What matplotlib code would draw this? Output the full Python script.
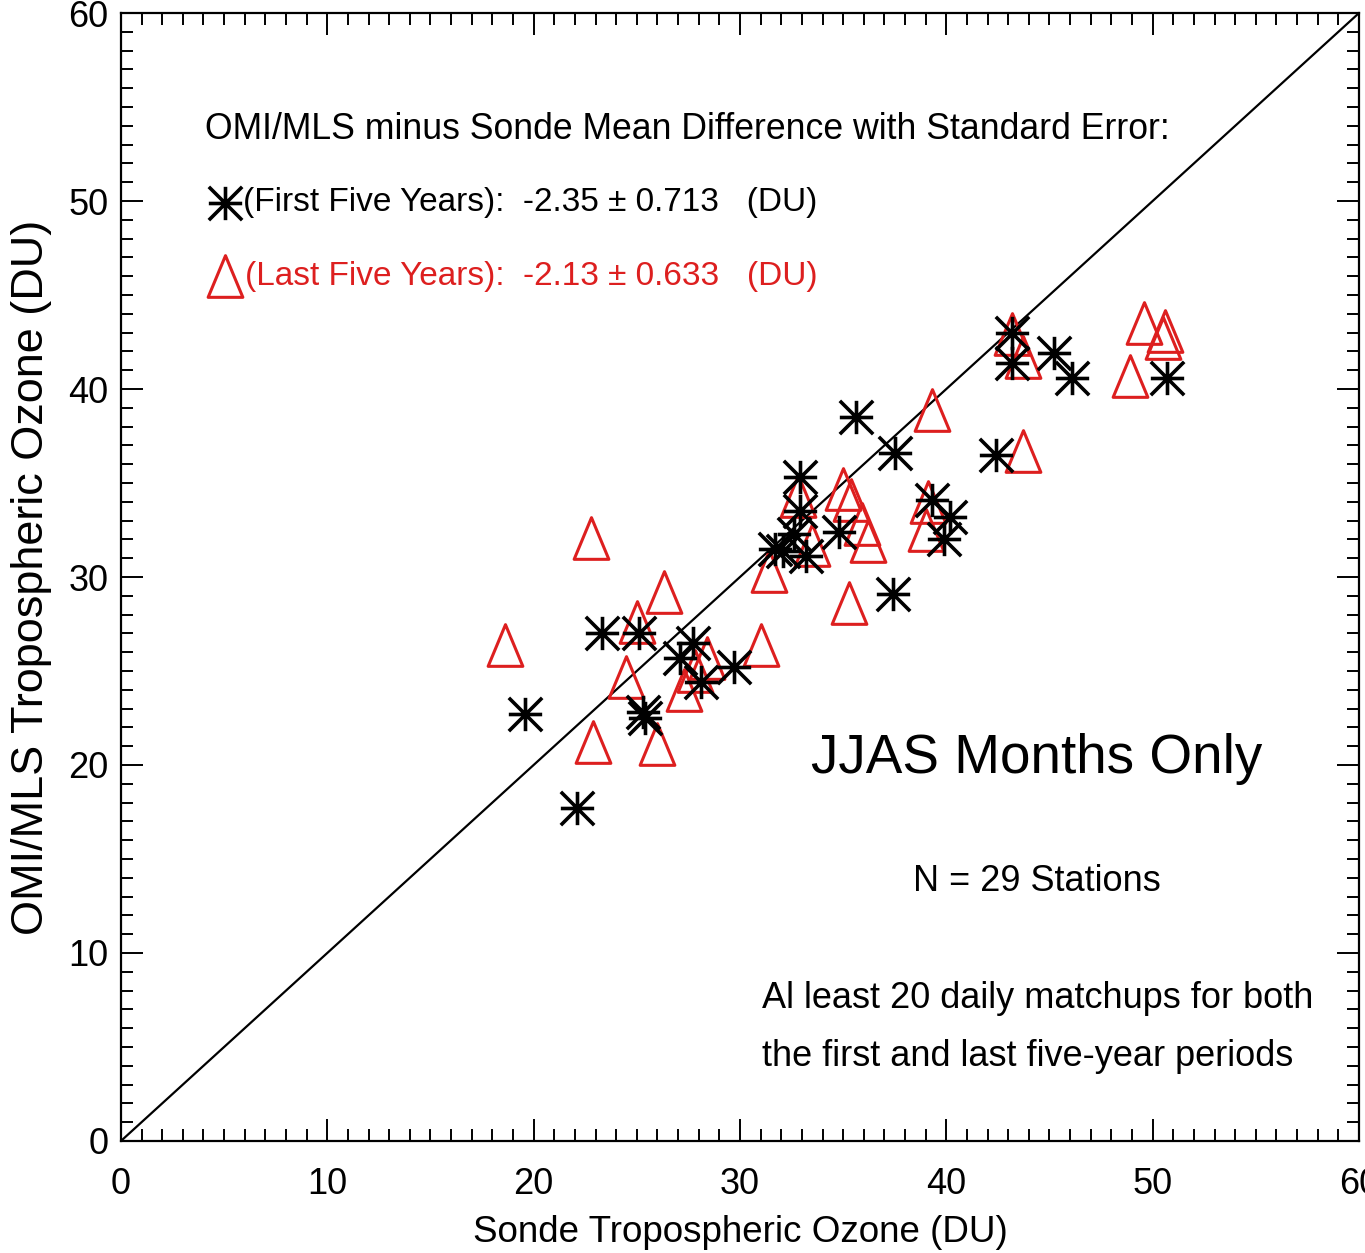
import matplotlib
matplotlib.use("Agg")
import matplotlib.pyplot as plt
from matplotlib.path import Path
from matplotlib.ticker import MultipleLocator

plt.rcParams['font.family'] = ['Liberation Sans', 'DejaVu Sans']

# ---- data ----
first_x = [19.6, 22.1, 23.3, 25.1, 25.4, 25.3, 27.7, 27.1, 28.1, 29.7,
           31.7, 32.1, 32.6, 33.2, 32.9, 32.9, 34.8, 35.6, 37.5, 37.4,
           39.3, 40.2, 39.9, 42.4, 43.2, 43.2, 45.2, 46.1, 50.7]
first_y = [22.7, 17.7, 27.0, 27.0, 22.5, 22.8, 26.5, 25.7, 24.4, 25.2,
           31.5, 31.4, 32.3, 31.1, 35.3, 33.5, 32.4, 38.5, 36.6, 29.1,
           34.1, 33.2, 32.0, 36.5, 43.0, 41.4, 41.9, 40.6, 40.6]

last_x = [18.6, 22.8, 26.3, 25.0, 24.5, 22.9, 26.0, 28.4, 27.3, 27.8,
          31.0, 31.4, 32.8, 33.5, 35.0, 35.4, 35.9, 36.2, 35.3, 39.3,
          39.1, 39.0, 43.2, 43.7, 49.6, 50.6, 50.5, 48.9, 43.7]
last_y = [26.4, 32.1, 29.2, 27.6, 24.7, 21.2, 21.1, 25.7, 24.0, 25.0,
          26.4, 30.3, 34.3, 31.7, 34.7, 34.1, 32.8, 31.9, 28.6, 38.9,
          34.0, 32.5, 42.9, 41.7, 43.5, 43.1, 42.7, 40.7, 36.7]

one_to_one = [0, 60]

first_label = '(First Five Years):  -2.35 \u00b1 0.713   (DU)'
last_label = '(Last Five Years):  -2.13 \u00b1 0.633   (DU)'

RED = '#dd1f1f'

# asterisk marker (8-armed, like IDL psym=2)
ast = Path([(-1, 0), (1, 0), (0, -1), (0, 1), (-1, -1), (1, 1), (-1, 1), (1, -1)],
           [Path.MOVETO, Path.LINETO] * 4)
# open triangle, slightly taller than wide
tri = Path([(-17.5, -21), (17.5, -21), (0, 21), (-17.5, -21)],
           [Path.MOVETO, Path.LINETO, Path.LINETO, Path.CLOSEPOLY])

fig = plt.figure(figsize=(13.65, 12.53), dpi=100)
ax = fig.add_axes([0.0886, 0.0894, 0.9070, 0.9002])

ax.plot(one_to_one, one_to_one, color='black', lw=1.6, zorder=1)

ax.plot(first_x, first_y, linestyle='none', marker=ast, ms=24,
        mec='black', mew=2.6, zorder=3)
ax.plot(last_x, last_y, linestyle='none', marker=tri, ms=30,
        mec=RED, mfc='none', mew=2.2, zorder=2)

ax.set_xlim(0, 60)
ax.set_ylim(0, 60)
ax.xaxis.set_major_locator(MultipleLocator(10))
ax.yaxis.set_major_locator(MultipleLocator(10))
ax.xaxis.set_minor_locator(MultipleLocator(1))
ax.yaxis.set_minor_locator(MultipleLocator(1))
ax.tick_params(which='both', direction='in', top=True, right=True, width=1.4)
ax.tick_params(which='major', length=16, labelsize=26, pad=19)
ax.tick_params(axis='y', which='major', pad=9)
ax.tick_params(which='minor', length=8.5)
for s in ax.spines.values():
    s.set_linewidth(1.6)

ax.set_xlabel('Sonde Tropospheric Ozone (DU)', fontsize=26.5, labelpad=9)
ax.set_ylabel('OMI/MLS Tropospheric Ozone (DU)', fontsize=32.4, labelpad=12)

ax.text(4.07, 53.8, 'OMI/MLS minus Sonde Mean Difference with Standard Error:',
        fontsize=25.7, ha='left', va='center')

# legend-like lines
ax.plot([5.04], [49.9], linestyle='none', marker=ast, ms=24, mec='black', mew=2.6)
ax.plot([5.04], [46.0], linestyle='none', marker=tri, ms=30, mec=RED,
        mfc='none', mew=2.2)
ax.text(5.91, 49.9, first_label, fontsize=24, ha='left', va='center', color='black')
ax.text(6.0, 46.0, last_label, fontsize=24, ha='left', va='center', color=RED)

ax.text(44.4, 20.3, 'JJAS Months Only', fontsize=39.5, ha='center', va='center')
ax.text(44.4, 13.8, 'N = 29 Stations', fontsize=26, ha='center', va='center')
ax.text(31.06, 7.6, 'Al least 20 daily matchups for both', fontsize=26,
        ha='left', va='center')
ax.text(31.06, 4.47, 'the first and last five-year periods', fontsize=26,
        ha='left', va='center')

fig.savefig('out.png', dpi=100)
